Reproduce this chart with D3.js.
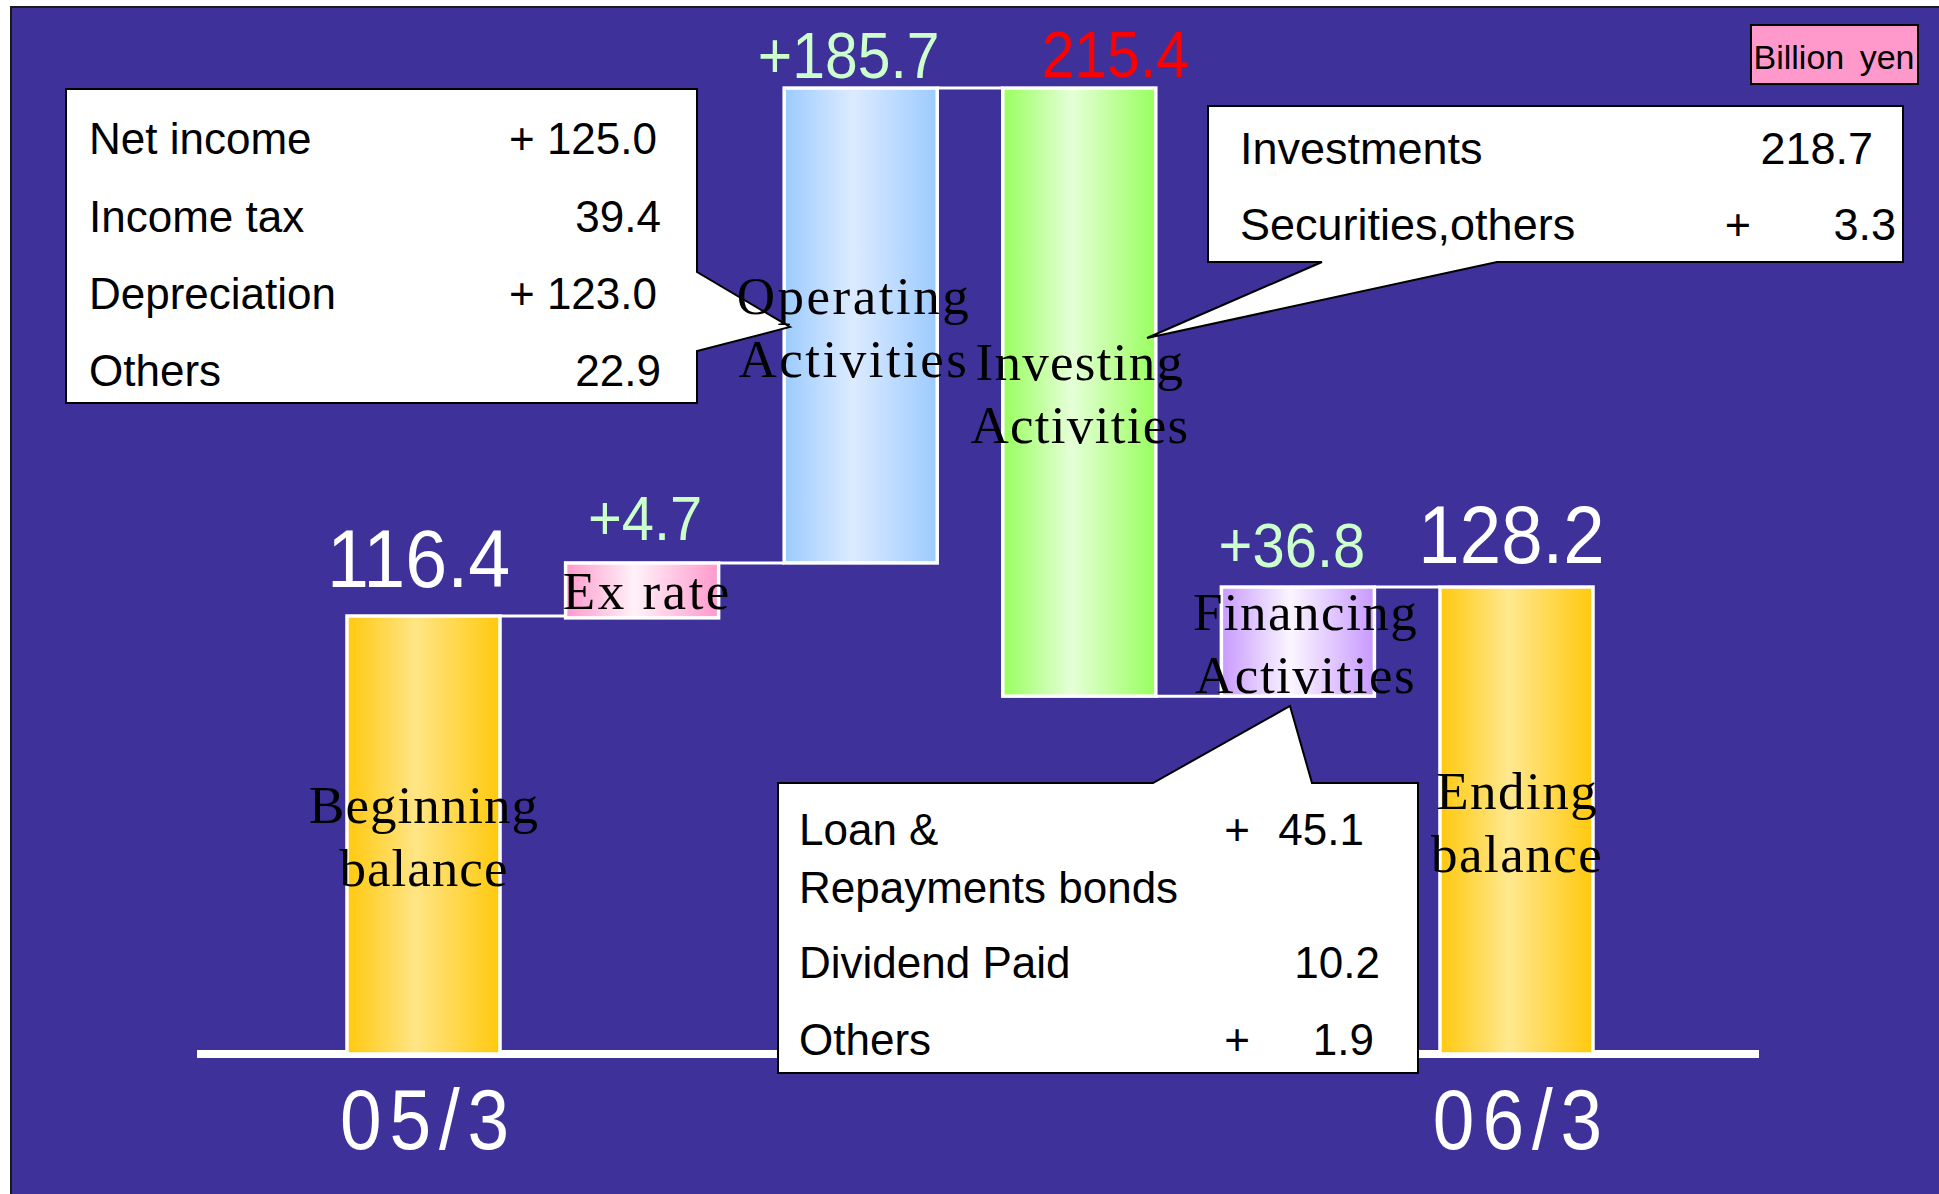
<!DOCTYPE html>
<html><head><meta charset="utf-8">
<script src="https://cdn.jsdelivr.net/npm/d3@7"></script>
<style>html,body{margin:0;padding:0;background:#fff;overflow:hidden}</style>
</head><body>
<svg id="chart" width="1939" height="1194"></svg>
<script>
// ---------------- DATA ----------------
const categories = ["Beginning balance", "Ex rate", "Operating Activities", "Investing Activities", "Financing Activities", "Ending balance"];
const labelLines = [["Beginning", "balance"], ["Ex rate"], ["Operating", "Activities"], ["Investing", "Activities"], ["Financing", "Activities"], ["Ending", "balance"]];
const amounts = [116.4, 4.7, 185.7, -215.4, 36.8, 128.2];
const valueLabels = ["116.4", "+4.7", "+185.7", "215.4", "+36.8", "128.2"];
// bar extents as drawn in the (schematic, not to scale) picture, billion yen units
const barLow  = [0, 115.9, 130.5, 95.1, 95.1, 0];
const barHigh = [116.4, 130.5, 256.7, 256.7, 124.1, 124.1];
const periodLabels = ["05/3", "06/3"];
const periodCategories = ["Beginning balance", "Ending balance"];
const unitLabel = "Billion yen";

const operatingItems  = ["Net income", "Income tax", "Depreciation", "Others"];
const operatingValues = ["+ 125.0", "39.4", "+ 123.0", "22.9"];
const investingItems  = ["Investments", "Securities,others"];
const investingSigns  = ["", "+"];
const investingValues = ["218.7", "3.3"];
const financingItems  = ["Loan &", "Repayments bonds", "Dividend Paid", "Others"];
const financingSigns  = ["+", "", "", "+"];
const financingValues = ["45.1", "", "10.2", "1.9"];

// ---------------- STYLE / LAYOUT ----------------
const gradStops = [
  ["#FFC90D", "#FFE586"], ["#FF99CC", "#FFF2F9"], ["#9CCBFF", "#DCEBFF"],
  ["#99FF5E", "#E6FFD8"], ["#C899FF", "#FBF6FF"], ["#FFC90D", "#FFE88F"]
];
const labelColors = ["#FFFFFF", "#CCFFCC", "#CCFFCC", "#FF0000", "#CCFFCC", "#FFFFFF"];
const labelSize = [82, 63, 64, 64, 63, 81];
const labelGap = [29, 23, 10, 11, 20, 24];
const labelDx = [-5, 3, -12, 36, -6, -5];
const catDx = [0, 4, -8, 0, 7, 0];
const catSpacing = [1, 2.5, 2.5, 1.3, 1.5, 1.5];

const svg = d3.select("#chart");
const W = 1939, H = 1194;
const purple = "#3E319A";

// background
svg.append("rect").attr("x", 11).attr("y", 7).attr("width", W).attr("height", H)
  .attr("fill", purple).attr("stroke", "#1a1a1a").attr("stroke-width", 2);

// scales
const x = d3.scaleBand().domain(categories).range([347, 1593]).paddingInner(0.30).paddingOuter(0);
const y = d3.scaleLinear().domain([0, 260]).range([1054, 1054 - 260 * (438 / 116.4)]);
const bw = x.bandwidth();

// gradients
const defs = svg.append("defs");
categories.forEach((c, i) => {
  const g = defs.append("linearGradient").attr("id", "g" + i).attr("x1", 0).attr("x2", 1).attr("y1", 0).attr("y2", 0);
  g.append("stop").attr("offset", "0%").attr("stop-color", gradStops[i][0]);
  g.append("stop").attr("offset", "45%").attr("stop-color", gradStops[i][1]);
  g.append("stop").attr("offset", "100%").attr("stop-color", gradStops[i][0]);
});

// baseline
svg.append("line").attr("x1", 197).attr("x2", 1759).attr("y1", y(0)).attr("y2", y(0))
  .attr("stroke", "#fff").attr("stroke-width", 8);

// connectors
const level = i => amounts[i] >= 0 ? barHigh[i] : barLow[i];
svg.append("g").selectAll("line").data(categories.slice(0, -1)).join("line")
  .attr("x1", (c) => x(c) + bw)
  .attr("x2", (c, i) => x(categories[i + 1]))
  .attr("y1", (c, i) => y(level(i)))
  .attr("y2", (c, i) => y(level(i)))
  .attr("stroke", "#fff").attr("stroke-width", 3);

// bars
svg.append("g").selectAll("rect").data(categories).join("rect")
  .attr("x", c => x(c))
  .attr("width", bw)
  .attr("y", (c, i) => y(barHigh[i]))
  .attr("height", (c, i) => y(barLow[i]) - y(barHigh[i]))
  .attr("fill", (c, i) => `url(#g${i})`)
  .attr("stroke", "#fff").attr("stroke-width", 3.5);

// callouts
const sans = "Arial, 'Liberation Sans', Helvetica, sans-serif";
const serif = "'Times New Roman', 'Liberation Serif', Times, serif";
function callout(path) {
  svg.append("path").attr("d", path).attr("fill", "#fff").attr("stroke", "#000").attr("stroke-width", 2)
    .attr("stroke-linejoin", "miter");
}
callout("M66,89 H697 V272 L790,327 L697,351 V403 H66 Z");
callout("M1208,106 H1903 V262 H1497 L1147,338 L1322,262 H1208 Z");
callout("M778,783 H1153 L1290,706 L1312,783 H1418 V1073 H778 Z");

function rows(items, signs, values, o) {
  const g = svg.append("g").attr("font-family", sans).attr("font-size", o.size).attr("fill", "#000");
  items.forEach((t, i) => {
    const by = o.base[i];
    g.append("text").attr("x", o.lx).attr("y", by).text(t);
    if (signs && signs[i]) g.append("text").attr("x", o.sx).attr("y", by).attr("text-anchor", "middle").text(signs[i]);
    if (values[i]) g.append("text").attr("x", o.vx[i]).attr("y", by).attr("text-anchor", "end").text(values[i]);
  });
}
rows(operatingItems, null, operatingValues, {size: 44, base: [154, 232, 309, 386], lx: 89, vx: [657, 661, 657, 661]});
rows(investingItems, investingSigns, investingValues, {size: 45, base: [164, 240], lx: 1240, sx: 1738, vx: [1873, 1896]});
rows(financingItems, financingSigns, financingValues, {size: 44, base: [845, 903, 978, 1055], lx: 799, sx: 1237, vx: [1364, 0, 1380, 1374]});

// category labels (serif, centred in bar)
categories.forEach((c, i) => {
  const cx = x(c) + bw / 2 + catDx[i];
  const mid = (y(barLow[i]) + y(barHigh[i])) / 2;
  const lines = labelLines[i];
  const t = svg.append("text").attr("font-family", serif).attr("font-size", 53).attr("fill", "#000")
    .attr("text-anchor", "middle").attr("letter-spacing", catSpacing[i]);
  lines.forEach((ln, k) => {
    const by = lines.length === 1 ? mid + 19 : mid - 12 + k * 63;
    t.append("tspan").attr("x", cx + catSpacing[i] / 2).attr("y", by).text(ln);
  });
});

// value labels (condensed sans)
categories.forEach((c, i) => {
  const cx = x(c) + bw / 2 + labelDx[i];
  const by = y(barHigh[i]) - labelGap[i];
  svg.append("g").attr("transform", `translate(${cx},${by}) scale(0.92,1)`)
    .append("text").attr("text-anchor", "middle").attr("font-family", sans)
    .attr("font-size", labelSize[i]).attr("fill", labelColors[i]).text(valueLabels[i]);
});

// period labels
periodLabels.forEach((p, i) => {
  const c = periodCategories[i];
  const cx = x(c) + bw / 2 + 5;
  svg.append("g").attr("transform", `translate(${cx},1149) scale(0.88,1)`)
    .append("text").attr("text-anchor", "middle").attr("font-family", sans).attr("font-size", 85)
    .attr("letter-spacing", 9).attr("fill", "#fff").text(p);
});

// unit box
svg.append("rect").attr("x", 1751).attr("y", 25).attr("width", 167).attr("height", 59)
  .attr("fill", "#FF99CC").attr("stroke", "#000").attr("stroke-width", 2);
svg.append("text").attr("x", 1834).attr("y", 69).attr("text-anchor", "middle").attr("font-family", sans)
  .attr("font-size", 34).attr("fill", "#000").attr("word-spacing", 6).text(unitLabel);
</script>
</body></html>
